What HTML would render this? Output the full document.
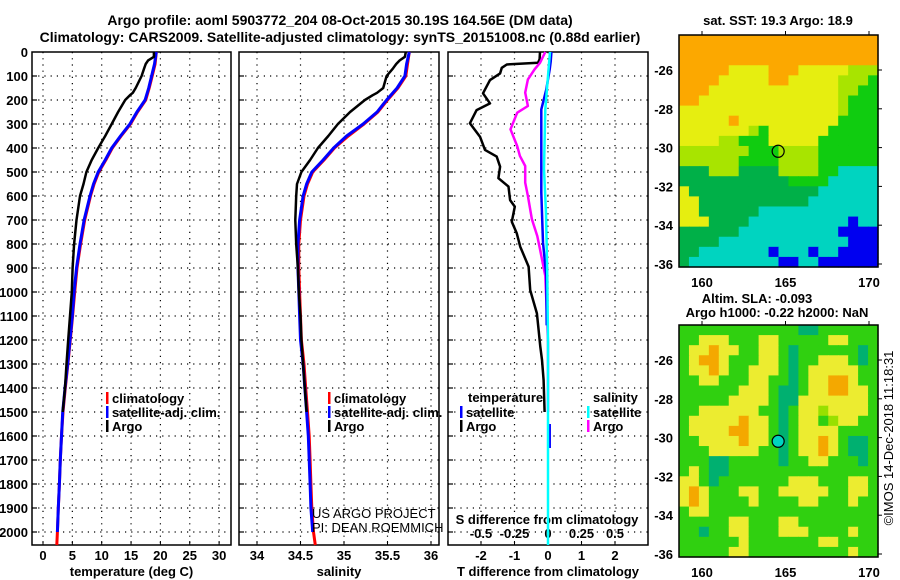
<!DOCTYPE html>
<html><head><meta charset="utf-8"><style>
html,body{margin:0;padding:0;background:#fff;}
svg{display:block;font-family:"Liberation Sans",sans-serif;}
.b{font-weight:bold;font-size:13px;}
</style></head><body>
<svg id="svg" width="900" height="580" viewBox="0 0 900 580" xmlns="http://www.w3.org/2000/svg">
<g class="b" style="font-size:14px">
<text x="340" y="25" text-anchor="middle">Argo profile: aoml 5903772_204 08-Oct-2015 30.19S 164.56E (DM data)</text>
<text x="340" y="42" text-anchor="middle">Climatology: CARS2009. Satellite-adjusted climatology: synTS_20151008.nc (0.88d earlier)</text>
</g>
<g id="plots"></g>
<g id="maps"></g>
</svg>
<script>
// ---------- data ----------
const depthTickLabels = [0,100,200,300,400,500,600,700,800,900,1000,1100,1200,1300,1400,1500,1600,1700,1800,1900,2000];
const tempTicks = [0,5,10,15,20,25,30];
const salTicks = [34,34.5,35,35.5,36];
const tdiffTicks = [-2,-1,0,1,2];
const sdiffTicks = [-0.5,-0.25,0,0.25,0.5];
const sdiffTickLabels = ["-0.5","-0.25","0","0.25","0.5"];

const depthClim = [0,50,100,150,200,250,300,350,400,450,500,550,600,700,800,900,1000,1100,1200,1300,1400,1500,1600,1700,1800,1900,2000,2054];
const tempClim = [19.3,19.1,18.6,18.1,17.5,16.1,14.9,13.3,11.8,10.7,9.5,8.7,8.1,7.1,6.4,5.8,5.4,5.05,4.65,4.25,3.8,3.4,3.15,2.95,2.8,2.6,2.45,2.35];
const tempSat = [19.3,19.0,18.5,18.0,17.4,16.0,14.8,13.2,11.7,10.6,9.4,8.6,8.0,7.0,6.3,5.7,5.3,5.0,4.6,4.2,3.75,3.35,3.15,2.95,2.8,2.6,2.45];
const salClim = [35.75,35.73,35.71,35.62,35.50,35.39,35.23,35.05,34.89,34.77,34.64,34.58,34.54,34.50,34.48,34.48,34.49,34.50,34.51,34.54,34.56,34.58,34.60,34.61,34.62,34.63,34.65,34.67];
const salSat = [35.75,35.72,35.70,35.61,35.49,35.38,35.22,35.03,34.88,34.76,34.63,34.57,34.53,34.49,34.47,34.47,34.48,34.49,34.50,34.53,34.55,34.57,34.59,34.60,34.61,34.62,34.64];

const depthArgo = [0,20,35,50,70,100,150,170,180,200,250,300,350,400,450,500,550,600,700,800,900,1000,1100,1200,1300,1400,1500];
const tempArgo = [18.9,18.9,17.9,17.5,17.2,16.8,15.8,15.3,14.8,14.0,12.8,11.7,10.6,9.4,8.3,7.4,6.9,6.3,5.7,5.3,5.05,4.9,4.6,4.3,4.0,3.75,3.35];
const salArgo = [35.71,35.70,35.64,35.60,35.56,35.49,35.45,35.38,35.33,35.24,35.07,34.93,34.82,34.70,34.61,34.51,34.46,34.45,34.44,34.45,34.47,34.48,34.50,34.51,34.53,34.55,34.57];

const depthDiffT = [0,30,45,52,66,89,117,172,214,242,297,353,408,436,478,526,561,617,644,707,756,811,894,992,1089,1158,1228,1283,1367,1500];
const tDiffArgo = [-0.24,-0.25,-0.3,-1.23,-1.38,-1.43,-1.73,-1.94,-1.73,-2.13,-2.33,-2.03,-1.88,-1.53,-1.43,-1.48,-1.18,-1.13,-0.99,-1.08,-0.93,-0.83,-0.58,-0.53,-0.33,-0.28,-0.23,-0.18,-0.13,-0.1];
const depthDiffS = [0,45,72,114,169,225,253,322,392,433,475,544,600,697,767,822,933,1072,1211,1500];
const sDiffArgo = [-0.02,-0.06,-0.1,-0.15,-0.17,-0.15,-0.23,-0.28,-0.23,-0.21,-0.17,-0.17,-0.15,-0.12,-0.08,-0.06,-0.02,-0.01,0,0];
const depthSatT = [0,40,72,156,239,378,586,794,933,1139];
const tDiffSat = [0.1,0.08,0.05,-0.05,-0.2,-0.2,-0.2,-0.15,-0.05,-0.04];
const depthSatT2 = [1550,1650];
const tDiffSat2 = [0.05,0.05];
const depthSatS = [0,100,239,486,672,933,1200,1600,2054];
const sDiffSat = [0.015,0,-0.02,-0.03,-0.015,-0.005,0,0,0];

// ---------- axes ----------
const Y0 = 52, PXD = 0.24;
const yDepth = d => Y0 + d*PXD;
const xTemp = t => 43 + t*5.87;
const xSal = s => 257 + (s-34)*87;
const xTd = t => 548 + t*33.5;
const xSd = s => 548 + s*134;
const NS = "http://www.w3.org/2000/svg";
function mk(tag, attrs, parent){const e=document.createElementNS(NS,tag);for(const k in attrs)e.setAttribute(k,attrs[k]);parent.appendChild(e);return e;}
const plots = document.getElementById('plots');

const panels = [
 {x0:32,x1:231,name:'temperature-panel',ticks:tempTicks,labels:tempTicks.map(String),fx:xTemp,title:'temperature (deg C)'},
 {x0:239,x1:439,name:'salinity-panel',ticks:salTicks,labels:salTicks.map(String),fx:xSal,title:'salinity'},
 {x0:448,x1:648,name:'difference-panel',ticks:tdiffTicks,labels:tdiffTicks.map(String),fx:xTd,title:'T difference from climatology'}
];
const yBot = 545;
panels.forEach((p,pi)=>{
  const g = mk('g',{},plots);
  
  
  // grid
  p.ticks.forEach(t=>{
    const l=mk('line',{x1:p.fx(t),x2:p.fx(t),y1:Y0,y2:yBot,stroke:'#000','stroke-width':1.2,'stroke-dasharray':'1.2,5'},g);
    
    
    const tx=mk('text',{x:p.fx(t),y:560,'text-anchor':'middle',class:'b'},g);
    tx.textContent = p.labels[p.ticks.indexOf(t)];
    
    
    mk('line',{x1:p.fx(t),x2:p.fx(t),y1:yBot,y2:yBot-4,stroke:'#000'},g);
  });
  depthTickLabels.forEach(d=>{
    if(d===0)return;
    const l=mk('line',{x1:p.x0,x2:p.x1,y1:yDepth(d),y2:yDepth(d),stroke:'#000','stroke-width':1.2,'stroke-dasharray':'1.2,5'},g);
    
    
    mk('line',{x1:p.x0,x2:p.x0+5,y1:yDepth(d),y2:yDepth(d),stroke:'#000','stroke-width':1.2},g);
  });
  const fr=mk('rect',{x:p.x0,y:Y0,width:p.x1-p.x0,height:yBot-Y0,fill:'none',stroke:'#000','stroke-width':1.5},g);
  
  
  const at=mk('text',{x:(p.x0+p.x1)/2,y:576,'text-anchor':'middle',class:'b'},g);
  at.textContent=p.title;
  
  
});
// depth labels
const yl = mk('g',{class:'b','text-anchor':'end'},plots);


depthTickLabels.forEach(d=>{
  const t=mk('text',{x:28,y:yDepth(d)+5},yl);
  t.textContent=String(d);
  
  
});
// sdiff secondary labels
sdiffTicks.forEach((s,i)=>{
  const t=mk('text',{x:xSd(s),y:538,'text-anchor':'middle',class:'b'},plots);
  t.textContent=sdiffTickLabels[i];
  
  
});
const sdt=mk('text',{x:547,y:524,'text-anchor':'middle',class:'b'},plots);
sdt.textContent='S difference from climatology';



function series(vals, depths, fx, color, w, name){
  const pts = vals.map((v,i)=>fx(v).toFixed(1)+','+yDepth(depths[i]).toFixed(1)).join(' ');
  const pl = mk('polyline',{points:pts,fill:'none',stroke:color,'stroke-width':w,'stroke-linejoin':'round'},plots);
  
  
}
series(tempClim, depthClim, xTemp, '#ff0000', 3, 'temperature-climatology-line');
series(tempSat, depthClim, xTemp, '#0000ff', 3, 'temperature-satellite-line');
series(tempArgo, depthArgo, xTemp, '#000000', 2.5, 'temperature-argo-line');
series(salClim, depthClim, xSal, '#ff0000', 3, 'salinity-climatology-line');
series(salSat, depthClim, xSal, '#0000ff', 3, 'salinity-satellite-line');
series(salArgo, depthArgo, xSal, '#000000', 2.5, 'salinity-argo-line');
series(tDiffArgo, depthDiffT, xTd, '#000000', 2.5, 't-diff-argo-line');
series(sDiffArgo, depthDiffS, xSd, '#ff00ff', 2.5, 's-diff-argo-line');
series(tDiffSat, depthSatT, xTd, '#0000ff', 2.5, 't-diff-satellite-line');
series(tDiffSat2, depthSatT2, xTd, '#0000ff', 2.5, 't-diff-satellite-segment');
series(sDiffSat, depthSatS, xSd, '#00ffff', 2.5, 's-diff-satellite-line');

// legends
function legend(x,y,color,label,name){
  const g=mk('g',{},plots);
  
  
  mk('rect',{x:x,y:y-11,width:2.5,height:12,fill:color},g);
  const t=mk('text',{x:x+6,y:y,class:'b'},g);
  t.textContent=label;
}
legend(106,403,'#ff0000','climatology','legend-temp-climatology');
legend(106,417,'#0000ff','satellite-adj. clim.','legend-temp-satellite');
legend(106,431,'#000000','Argo','legend-temp-argo');
legend(328,403,'#ff0000','climatology','legend-sal-climatology');
legend(328,417,'#0000ff','satellite-adj. clim.','legend-sal-satellite');
legend(328,431,'#000000','Argo','legend-sal-argo');
const lt=mk('text',{x:468,y:402,class:'b'},plots);lt.textContent='temperature';


const ls=mk('text',{x:593,y:402,class:'b'},plots);ls.textContent='salinity';


legend(460,417,'#0000ff','satellite','legend-tdiff-satellite');
legend(460,431,'#000000','Argo','legend-tdiff-argo');
legend(587,417,'#00ffff','satellite','legend-sdiff-satellite');
legend(587,431,'#ff00ff','Argo','legend-sdiff-argo');
const c1=mk('text',{x:312,y:518,'font-size':'13'},plots);c1.textContent='US ARGO PROJECT';


const c2=mk('text',{x:312,y:532,'font-size':'13'},plots);c2.textContent='PI: DEAN ROEMMICH';



// ---------- maps ----------
const sstGrid = [
"OOOOOOOOOOOOOOOOOOOO",
"OOOOOOOOOOOOOOOOOOOO",
"OOOOOOOOOOOOOOOOOOOO",
"OOOOOYYYYOOOYYYYYLLL",
"OOOOYYYYYOOYYYYYLLLG",
"OOOYYYYYYYYYYYYYLLGG",
"OOYYYYYYYYYYYYYYLGGG",
"YYYYYYYYYYYYYYYYLGGG",
"YYYYYOYYYYYYYYYYGGGG",
"YYYYYYYLGYYYYYYGGGGG",
"YYYYLLGGGYYYYYGGGGGG",
"LLLLLLLGGGLLLLGGGGGG",
"LLLLLLGGGGLLLLGGGGGG",
"DDDLLLDDDDLLLLGGCCCC",
"DDDDDDDDDDDGGGGCCCCC",
"YDDDDDDDDDDDDDCCCCCC",
"YYDDDDDDDDDDDCCCCCCC",
"YYDDDDDDCCCCCCCCCCCC",
"YYYDDDDCCCCCCCCCCBCC",
"DDDDDDCCCCCCCCCCBBBB",
"DDDDCCCCCCCCCCCCCBBB",
"DDCCCCCCCBCCCBCCBBBB",
"DCCCCCCCCCBBCCBBBBBB"];
const slaGrid = [
"GGGGGGGGGGGGDDGGGGGG",
"GGYYYGGGYYGGGGGYYGGG",
"GYYOYYGGYYGDGGGGGGDG",
"GYOOYGGGYYGDGGYYYGDG",
"GYYOYGGYYYGDGYYYYYGG",
"GGYYGGGYYGGDGYYOOYGG",
"GGGGGGYYYGDDGYYOOYYG",
"GGGGGYYYYGDDYYYYYYYG",
"GGYYYYYYGGDGYYLYYYYG",
"GYYYYYOYYGDGYYGLYYGG",
"GYYYYOOYYGDGYYYYGGGG",
"GGYYYYOYYGDGYYOYGDDG",
"GGGYYYYYGGDGYYOYGDDG",
"GGGDDGGGGGDGGYYGGGDG",
"GYGDDGGGGGGGGGGGGGGG",
"YYGDGGGGGGGYYYGGGYYG",
"YOYGGGYYGGYYYYYGGYYG",
"YOYGGGGYGGGGYYGGGYGG",
"GYYGGGGGGGGGGGGGGGGG",
"GGGGGYYGGGYYGGGGGGGG",
"GGDGGYYGGGYYYGGGGYGG",
"GGGGGGYGGGGGGGYYGGGG",
"GGGGGYYGGGGGGGGGGYGG"];
const lonTicks = [160,165,170];
const latTicks = [-26,-28,-30,-32,-34,-36];
const floatLon = 164.56, floatLat = -30.19;
const sstColors = {O:'#fca800',Y:'#e6ee10',L:'#a8e400',G:'#10cc10',D:'#00b048',C:'#00d4c0',B:'#0000f0'};
const slaColors = {O:'#f4a800',Y:'#ecec30',L:'#98e000',G:'#30d010',D:'#00b070'};
const maps = document.getElementById('maps');
const MX0=679, MX1=878;
const xLon = lon => 702 + (lon-160)*16.7;
function drawMap(grid, colors, y0, y1, name, title1, title2, circleFill){
  const g=mk('g',{},maps);
  
  
  const yLat = lat => y0 + 35 + (-26-lat)*((y1-y0-38)/10);
  const rows=grid.length, cols=grid[0].length;
  const cw=(MX1-MX0)/cols, ch=(y1-y0)/rows;
  grid.forEach((row,r)=>{
    for(let c=0;c<row.length;c++){
      mk('rect',{x:(MX0+c*cw).toFixed(2),y:(y0+r*ch).toFixed(2),width:(cw+0.6).toFixed(2),height:(ch+0.6).toFixed(2),fill:colors[row[c]]},g);
    }
  });
  mk('rect',{x:MX0,y:y0,width:MX1-MX0,height:y1-y0,fill:'none',stroke:'#000','stroke-width':1.5},g);
  lonTicks.forEach(l=>{
    mk('line',{x1:xLon(l),x2:xLon(l),y1:y0,y2:y0-4,stroke:'#000'},g);
    const t=mk('text',{x:xLon(l),y:y1+20,'text-anchor':'middle',class:'b'},g);
    t.textContent=String(l);
    
    
  });
  latTicks.forEach(l=>{
    mk('line',{x1:MX1,x2:MX1+4,y1:yLat(l),y2:yLat(l),stroke:'#000'},g);
    const t=mk('text',{x:673,y:yLat(l)+5,'text-anchor':'end',class:'b'},g);
    t.textContent=String(l);
    
    
  });
  const c=mk('circle',{cx:xLon(floatLon),cy:yLat(floatLat),r:6,fill:circleFill,stroke:'#000','stroke-width':1.2},g);
  
  
  title1.forEach((tt,i)=>{
    const t=mk('text',{x:tt.x,y:tt.y,'text-anchor':'middle',class:'b'},g);
    t.textContent=tt.s;
    
    
  });
}
drawMap(sstGrid, sstColors, 35, 267, 'sst-map', [{x:778,y:25,s:'sat. SST: 19.3 Argo: 18.9'}], null, 'none');
drawMap(slaGrid, slaColors, 325, 557, 'sla-map', [{x:757,y:303,s:'Altim. SLA: -0.093'},{x:777,y:317,s:'Argo h1000: -0.22 h2000: NaN'}], null, '#00d4c0');
const cp=mk('text',{x:0,y:0,'text-anchor':'middle','font-size':'13',transform:'translate(893,438) rotate(-90)'},maps);
cp.textContent='©IMOS 14-Dec-2018 11:18:31';


</script>
</body></html>
